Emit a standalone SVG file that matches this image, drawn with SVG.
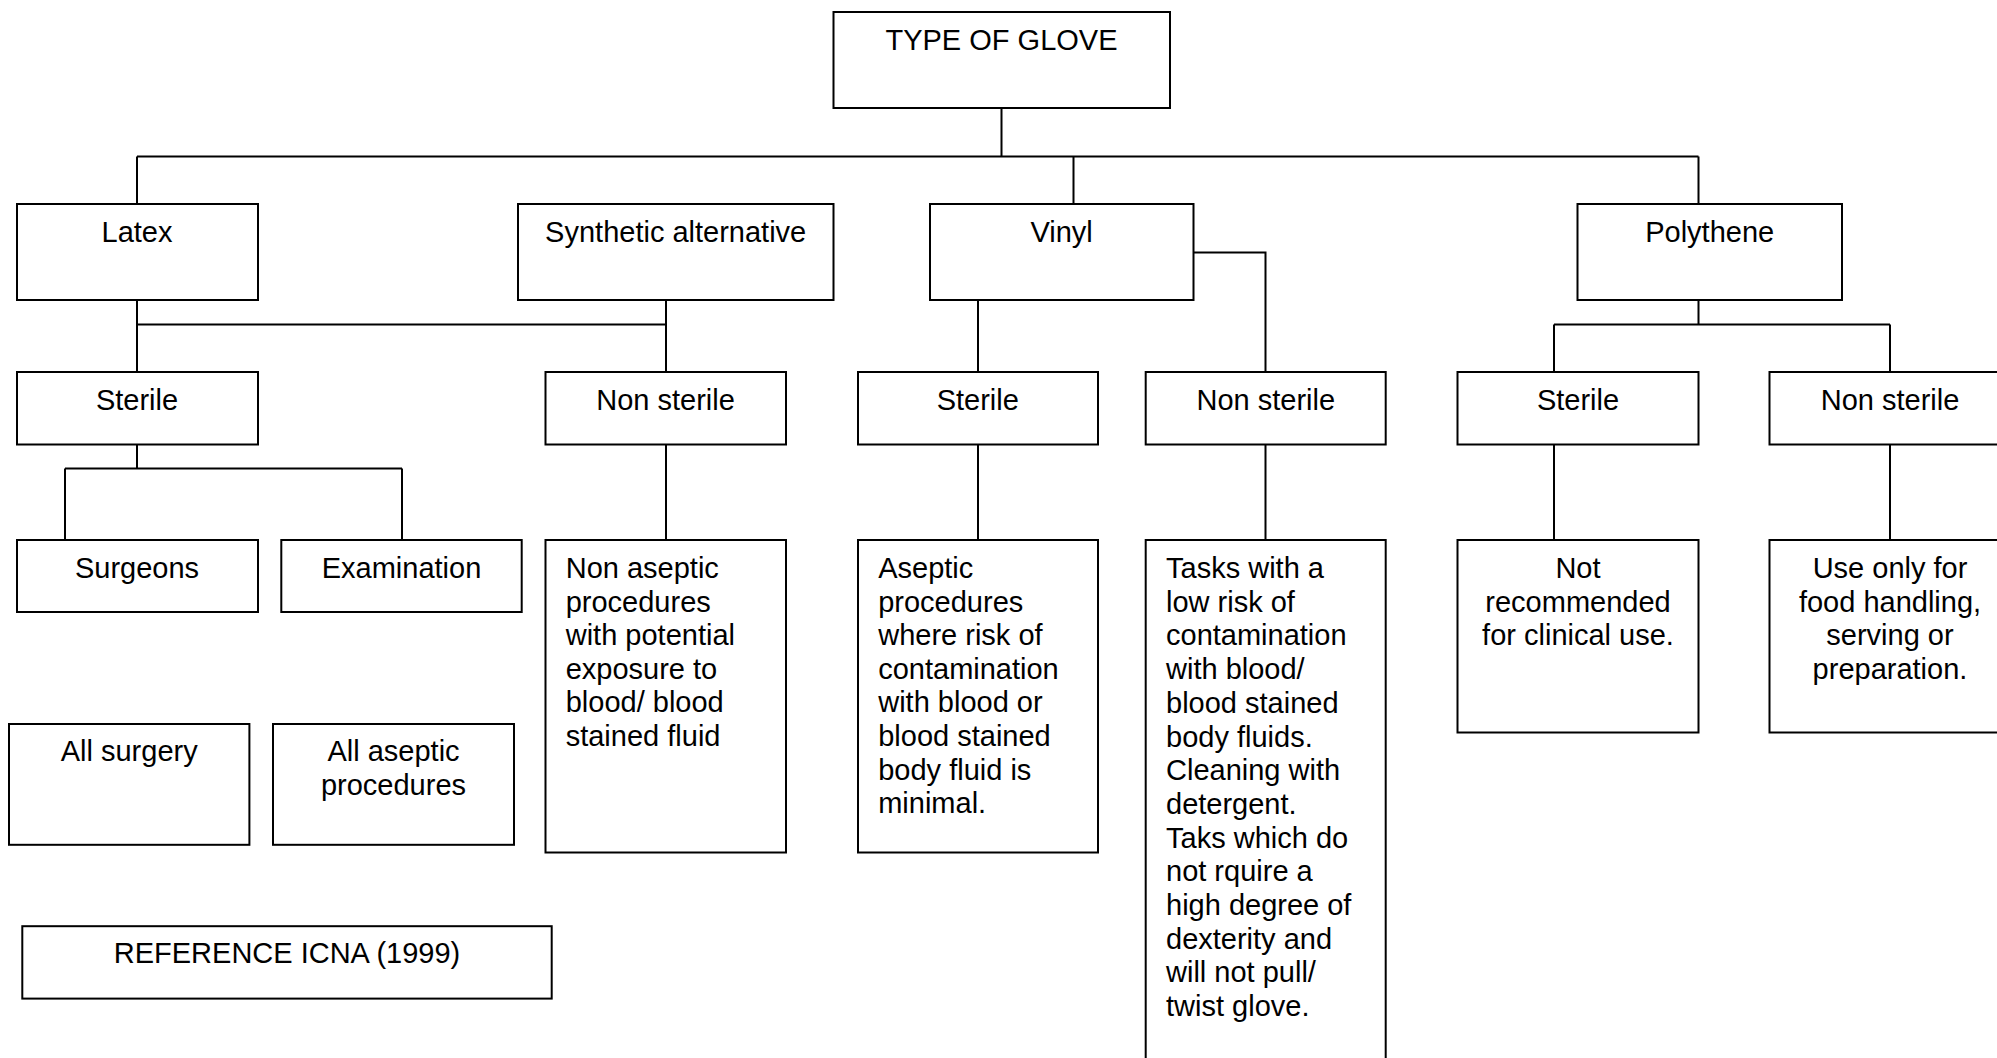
<svg xmlns="http://www.w3.org/2000/svg" width="1997" height="1058" viewBox="0 0 1997 1058">
<style>
rect.n{fill:#fff;stroke:#000;stroke-width:2}
text{font-family:"Liberation Sans",Arial,sans-serif;font-size:29px;fill:#000}
.c{text-anchor:middle}
#connectors path{fill:none;stroke:#000;stroke-width:2}
</style>
<rect width="1997" height="1058" fill="#fff"/>
<g id="connectors">
<path d="M1001.5 108V156.5M137 156.5H1698.5M137 156.5V204M1073.5 156.5V204M1698.5 156.5V204"/>
<path d="M137 300V372M137 324.5H666M666 300V372"/>
<path d="M978 300V372M1193.5 252.5H1265.5V372"/>
<path d="M1698.5 300V324.5M1554 324.5H1890M1554 324.5V372M1890 324.5V372"/>
<path d="M137 444.5V468.5M65 468.5H402M65 468.5V540M402 468.5V540"/>
<path d="M666 444.5V540M978 444.5V540M1265.5 444.5V540M1554 444.5V540M1890 444.5V540"/>
</g>
<g id="type-of-glove"><rect class="n" x="833.5" y="12" width="336.5" height="96"/><text class="c" x="1001.5" y="50">TYPE OF GLOVE</text></g>
<g id="latex"><rect class="n" x="17" y="204" width="241" height="96"/><text class="c" x="137" y="241.7">Latex</text></g>
<g id="synthetic"><rect class="n" x="518" y="204" width="315.5" height="96"/><text class="c" x="675.7" y="241.7">Synthetic alternative</text></g>
<g id="vinyl"><rect class="n" x="930" y="204" width="263.5" height="96"/><text class="c" x="1061.6" y="241.7">Vinyl</text></g>
<g id="polythene"><rect class="n" x="1577.5" y="204" width="264.5" height="96"/><text class="c" x="1709.7" y="241.7">Polythene</text></g>
<g id="latex-sterile"><rect class="n" x="17" y="372" width="241" height="72.5"/><text class="c" x="137" y="409.7">Sterile</text></g>
<g id="synthetic-non-sterile"><rect class="n" x="545.5" y="372" width="240.5" height="72.5"/><text class="c" x="665.5" y="409.7">Non sterile</text></g>
<g id="vinyl-sterile"><rect class="n" x="858" y="372" width="240" height="72.5"/><text class="c" x="977.8" y="409.7">Sterile</text></g>
<g id="vinyl-non-sterile"><rect class="n" x="1145.7" y="372" width="240" height="72.5"/><text class="c" x="1265.8" y="409.7">Non sterile</text></g>
<g id="poly-sterile"><rect class="n" x="1457.5" y="372" width="241" height="72.5"/><text class="c" x="1578" y="409.7">Sterile</text></g>
<g id="poly-non-sterile"><rect class="n" x="1769.5" y="372" width="241" height="72.5"/><text class="c" x="1890" y="409.7">Non sterile</text></g>
<g id="surgeons"><rect class="n" x="17" y="540" width="241" height="72"/><text class="c" x="137" y="578">Surgeons</text></g>
<g id="examination"><rect class="n" x="281.3" y="540" width="240.4" height="72"/><text class="c" x="401.5" y="578">Examination</text></g>
<g id="non-aseptic"><rect class="n" x="545.5" y="540" width="240.5" height="312.5"/>
<text x="565.7" y="578">Non aseptic</text><text x="565.7" y="611.6">procedures</text><text x="565.7" y="645.2">with potential</text><text x="565.7" y="678.8">exposure to</text><text x="565.7" y="712.4">blood/ blood</text><text x="565.7" y="746">stained fluid</text></g>
<g id="aseptic"><rect class="n" x="858" y="540" width="240" height="312.5"/>
<text x="878.2" y="578">Aseptic</text><text x="878.2" y="611.6">procedures</text><text x="878.2" y="645.2">where risk of</text><text x="878.2" y="678.8">contamination</text><text x="878.2" y="712.4">with blood or</text><text x="878.2" y="746">blood stained</text><text x="878.2" y="779.6">body fluid is</text><text x="878.2" y="813.2">minimal.</text></g>
<g id="tasks"><rect class="n" x="1145.7" y="540" width="240" height="530"/>
<text x="1166" y="578">Tasks with a</text><text x="1166" y="611.7">low risk of</text><text x="1166" y="645.4">contamination</text><text x="1166" y="679.1">with blood/</text><text x="1166" y="712.8">blood stained</text><text x="1166" y="746.5">body fluids.</text><text x="1166" y="780.2">Cleaning with</text><text x="1166" y="813.9">detergent.</text><text x="1166" y="847.6">Taks which do</text><text x="1166" y="881.3">not rquire a</text><text x="1166" y="915">high degree of</text><text x="1166" y="948.7">dexterity and</text><text x="1166" y="982.4">will not pull/</text><text x="1166" y="1016.1">twist glove.</text></g>
<g id="not-recommended"><rect class="n" x="1457.5" y="540" width="241" height="192.5"/>
<text class="c" x="1578" y="578">Not</text><text class="c" x="1578" y="611.6">recommended</text><text class="c" x="1578" y="645.2">for clinical use.</text></g>
<g id="use-only"><rect class="n" x="1769.5" y="540" width="241" height="192.5"/>
<text class="c" x="1890" y="578">Use only for</text><text class="c" x="1890" y="611.6">food handling,</text><text class="c" x="1890" y="645.2">serving or</text><text class="c" x="1890" y="678.8">preparation.</text></g>
<g id="all-surgery"><rect class="n" x="9" y="724" width="240.4" height="120.8"/><text class="c" x="129.2" y="761">All surgery</text></g>
<g id="all-aseptic"><rect class="n" x="273" y="724" width="241" height="120.8"/><text class="c" x="393.5" y="761">All aseptic</text><text class="c" x="393.5" y="794.6">procedures</text></g>
<g id="reference"><rect class="n" x="22.3" y="926.2" width="529.4" height="72.4"/><text class="c" x="287" y="963.4">REFERENCE ICNA (1999)</text></g>
</svg>
